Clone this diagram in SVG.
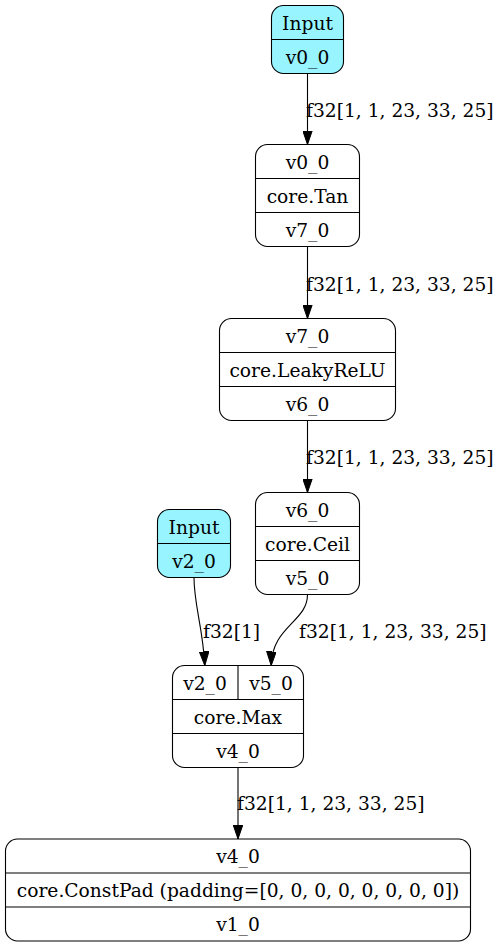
<svg xmlns="http://www.w3.org/2000/svg" width="502" height="947" viewBox="0 0 502 947">
  <style>
    text { font-family: "DejaVu Serif", "Liberation Serif", serif; font-size: 18.67px; fill: #000; }
    .c { text-anchor: middle; }
    .box { fill: #fff; stroke: #000; stroke-width: 1.1; }
    .inp { fill: #98f5ff; stroke: #000; stroke-width: 1.1; }
    .sep { stroke: #000; stroke-width: 1.1; fill: none; }
    .edge { stroke: #000; stroke-width: 1.1; fill: none; marker-end: url(#arrow); }
  </style>
  <defs>
    <marker id="arrow" viewBox="0 0 14 10" refX="14" refY="5" markerWidth="14" markerHeight="10" markerUnits="userSpaceOnUse" orient="auto">
      <path d="M0,0.2 L14,5 L0,9.8 Z" fill="#000" stroke="#000" stroke-width="1"/>
    </marker>
  </defs>
  <rect width="502" height="947" fill="#fff"/>

  <g id="connectors">
    <path class="edge" d="M307.5,73.5 L307.5,144.5"/>
    <text x="306" y="117">f32[1, 1, 23, 33, 25]</text>
    <path class="edge" d="M307.5,246.5 L307.5,318.5"/>
    <text x="306" y="291">f32[1, 1, 23, 33, 25]</text>
    <path class="edge" d="M307.5,420.5 L307.5,492.5"/>
    <text x="306" y="464">f32[1, 1, 23, 33, 25]</text>
    <path class="edge" d="M194,577.5 C194,605 203,628 204.8,665.5"/>
    <text x="203" y="638">f32[1]</text>
    <path class="edge" d="M307.5,594.5 C307.5,622 272,626 271.2,665.5"/>
    <text x="299" y="638">f32[1, 1, 23, 33, 25]</text>
    <path class="edge" d="M238,767.5 L238,839"/>
    <text x="237" y="810">f32[1, 1, 23, 33, 25]</text>
  </g>

  <g id="input_v0_0">
    <rect class="inp" x="271.5" y="5.5" width="72" height="68" rx="12"/>
    <line class="sep" x1="271.5" y1="39.5" x2="343.5" y2="39.5"/>
    <text class="c" x="307.5" y="29.5">Input</text>
    <text class="c" x="307.5" y="63.5">v0_0</text>
  </g>

  <g id="tan">
    <rect class="box" x="255.5" y="144.5" width="104" height="102" rx="12"/>
    <line class="sep" x1="255.5" y1="178.5" x2="359.5" y2="178.5"/>
    <line class="sep" x1="255.5" y1="212.5" x2="359.5" y2="212.5"/>
    <text class="c" x="307.5" y="168.5">v0_0</text>
    <text class="c" x="307.5" y="202.5">core.Tan</text>
    <text class="c" x="307.5" y="236.5">v7_0</text>
  </g>

  <g id="leakyrelu">
    <rect class="box" x="219.5" y="318.5" width="176" height="102" rx="12"/>
    <line class="sep" x1="219.5" y1="352.5" x2="395.5" y2="352.5"/>
    <line class="sep" x1="219.5" y1="386.5" x2="395.5" y2="386.5"/>
    <text class="c" x="307.5" y="342.5">v7_0</text>
    <text class="c" x="307.5" y="376.5">core.LeakyReLU</text>
    <text class="c" x="307.5" y="410.5">v6_0</text>
  </g>

  <g id="ceil">
    <rect class="box" x="255.5" y="492.5" width="104" height="102" rx="12"/>
    <line class="sep" x1="255.5" y1="526.5" x2="359.5" y2="526.5"/>
    <line class="sep" x1="255.5" y1="560.5" x2="359.5" y2="560.5"/>
    <text class="c" x="307.5" y="516.5">v6_0</text>
    <text class="c" x="307.5" y="550.5">core.Ceil</text>
    <text class="c" x="307.5" y="584.5">v5_0</text>
  </g>

  <g id="input_v2_0">
    <rect class="inp" x="157.5" y="509.5" width="73" height="68" rx="12"/>
    <line class="sep" x1="157.5" y1="543.5" x2="230.5" y2="543.5"/>
    <text class="c" x="194" y="533.5">Input</text>
    <text class="c" x="194" y="567.5">v2_0</text>
  </g>

  <g id="max">
    <rect class="box" x="172.5" y="665.5" width="131" height="102" rx="12"/>
    <line class="sep" x1="172.5" y1="699.5" x2="303.5" y2="699.5"/>
    <line class="sep" x1="172.5" y1="733.5" x2="303.5" y2="733.5"/>
    <line class="sep" x1="238" y1="665.5" x2="238" y2="699.5"/>
    <text class="c" x="205" y="689.5">v2_0</text>
    <text class="c" x="271" y="689.5">v5_0</text>
    <text class="c" x="238" y="723.5">core.Max</text>
    <text class="c" x="238" y="757.5">v4_0</text>
  </g>

  <g id="constpad">
    <rect class="box" x="5.5" y="839" width="465" height="102" rx="12"/>
    <line class="sep" x1="5.5" y1="873" x2="470.5" y2="873"/>
    <line class="sep" x1="5.5" y1="907" x2="470.5" y2="907"/>
    <text class="c" x="238" y="863">v4_0</text>
    <text class="c" x="238" y="897">core.ConstPad (padding=[0, 0, 0, 0, 0, 0, 0, 0])</text>
    <text class="c" x="238" y="931">v1_0</text>
  </g>
</svg>
